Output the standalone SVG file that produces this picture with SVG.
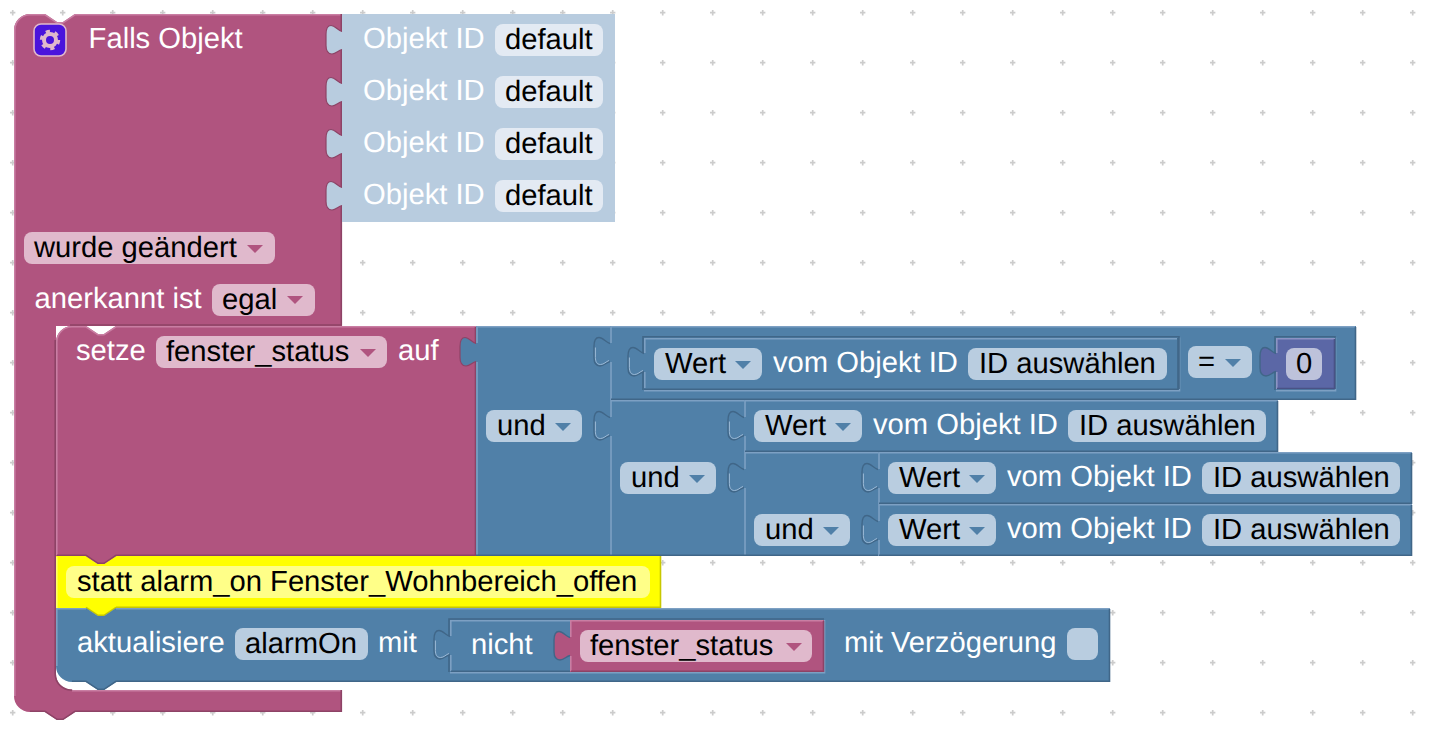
<svg xmlns="http://www.w3.org/2000/svg" width="1450" height="754" viewBox="0 0 1450 754">
<style>
text{font-family:"Liberation Sans",Arial,sans-serif;font-size:29.2px;text-rendering:geometricPrecision}
.w{fill:#fff}.k{fill:#000}
.e{fill:none;stroke-width:1.6}
.mf{fill:#b0547f}.ml{stroke:#c97ea3}.md{stroke:#8d4366}.mt{fill:#e0b9cc}
.bf{fill:#5080a8}.bl{stroke:#7da0c3}.bd{stroke:#406688}.bt{fill:#b9cde0}
.sf{fill:#b8ccdf}.st{fill:#e3eaf3}
.yf{fill:#ff0}.yl{stroke:#ff6}.yd{stroke:#c8c800}.yt{fill:#ff8}
.pf{fill:#5b67a6}.pl{stroke:#8c94c4}.pd{stroke:#495285}.pt{fill:#bdc2db}
.am{fill:#b0547f}.ab{fill:#5080a8}
.tm{stroke:#8d4366;stroke-width:1.2}
.tb{stroke:#406688;stroke-width:1.4}
.hl{fill:none;stroke:#9dbad6;stroke-width:1}
</style>
<defs>
<pattern id="grid" patternUnits="userSpaceOnUse" width="50" height="50"><path d="M10,12.7h5.4M12.7,10v5.4" stroke="#ccc" stroke-width="1.7" fill="none"/></pattern>
<path id="tab" d="M0,6C-4,5 -7,0 -11,0C-15,0 -16,5 -16,9V20C-16,25 -14,28.5 -10,28.5C-6,28.5 -4,25 0,24"/>
<path id="tabh" d="M-14.6,10V20C-14.6,24 -13,27 -9.5,27C-6,27 -4,24 -1,23"/>
<polygon id="arr" points="0,0 16,0 8,8"/>
</defs>
<rect id="background" width="1450" height="754" fill="#fff"/>
<rect id="workspace-grid" width="1450" height="754" fill="url(#grid)"/>

<g id="hat-falls-objekt">
<path class="mf" d="M14,30a16,16 0 0 1 16,-16h15l12,8h6l12,-8H342V326H56V674a16,16 0 0 0 16,16H342V712H75l-12,8h-6l-12,-8H30a16,16 0 0 1 -16,-16z"/>
<path class="e ml" d="M14.8,696V30a15.2,15.2 0 0 1 15.2,-15.2h15l12,8h6l12,-8H342M72,690.8H341"/>
<path class="e md" d="M341.3,14V325H70M55.2,340V674a16,16 0 0 0 17,16M341.3,690V711.3H75l-12,8h-6l-12,-8H30"/>
<rect x="34" y="24" width="32" height="32" rx="7" fill="#4a14dc" stroke="#e0b9cc" stroke-width="1.6"/>
<circle cx="50" cy="40" r="6" fill="none" stroke="#e0b9cc" stroke-width="4"/>
<circle cx="50" cy="40" r="8.7" fill="none" stroke="#e0b9cc" stroke-width="3" stroke-dasharray="4.2 4.91"/>
<text class="w" x="88.6" y="48">Falls Objekt</text>
<rect class="mt" x="24" y="232" width="251" height="32" rx="8"/>
<text class="k" x="34" y="257">wurde geändert</text>
<use href="#arr" class="am" x="247" y="245"/>
<text class="w" x="34.6" y="308">anerkannt ist</text>
<rect class="mt" x="212" y="284" width="103" height="32" rx="8"/>
<text class="k" x="222" y="309">egal</text>
<use href="#arr" class="am" x="287" y="296"/>
</g>

<g id="objekt-id-1">
<path class="sf" d="M342,14H615V66H342z"/><use href="#tab" class="sf tm" x="342" y="25.5"/>
<text class="w" x="363" y="48">Objekt ID</text>
<rect class="st" x="495" y="24" width="108" height="32" rx="8"/><text class="k" x="505" y="49">default</text>
</g>
<g id="objekt-id-2">
<path class="sf" d="M342,66H615V118H342z"/><use href="#tab" class="sf tm" x="342" y="77.5"/>
<text class="w" x="363" y="100">Objekt ID</text>
<rect class="st" x="495" y="76" width="108" height="32" rx="8"/><text class="k" x="505" y="101">default</text>
</g>
<g id="objekt-id-3">
<path class="sf" d="M342,118H615V170H342z"/><use href="#tab" class="sf tm" x="342" y="129.5"/>
<text class="w" x="363" y="152">Objekt ID</text>
<rect class="st" x="495" y="128" width="108" height="32" rx="8"/><text class="k" x="505" y="153">default</text>
</g>
<g id="objekt-id-4">
<path class="sf" d="M342,170H615V222H342z"/><use href="#tab" class="sf tm" x="342" y="181.5"/>
<text class="w" x="363" y="204">Objekt ID</text>
<rect class="st" x="495" y="180" width="108" height="32" rx="8"/><text class="k" x="505" y="205">default</text>
</g>

<g id="kommentar">
<path class="yf" d="M56,556H86l12,8h6l12,-8H661V608H116l-12,8h-6l-12,-8H56z"/>
<path class="e yl" d="M56.8,608V556.8"/>
<path class="e yd" d="M660.5,556V607.3H116M86,607.3l12,8h6l12,-8"/>
<rect class="yt" x="66" y="566" width="584" height="32" rx="8"/>
<text class="k" x="77" y="591">statt alarm_on Fenster_Wohnbereich_offen</text>
</g>

<g id="setze-fenster-status">
<path class="mf" d="M56,342a16,16 0 0 1 16,-16h14l12,8h6l12,-8H476V556H116l-12,8h-6l-12,-8H56z"/>
<path class="e ml" d="M56.8,555V342a15.2,15.2 0 0 1 15.2,-15.2h14l12,8h6l12,-8H476"/>
<path class="e md" d="M475.5,327V555.3H116l-12,8h-6l-12,-8H57"/>
<text class="w" x="76" y="360">setze</text>
<rect class="mt" x="156" y="336" width="231" height="32" rx="8"/>
<text class="k" x="166" y="361">fenster_status</text>
<use href="#arr" class="am" x="360" y="349"/>
<text class="w" x="398" y="360">auf</text>
</g>

<g id="und-1">
<path class="bf" d="M476,326H610V556H476z"/>
<use href="#tab" class="bf tm" x="476" y="337.5"/>
<path class="e bl" d="M477,556V362M477,343V326.8H610"/>
<path class="e bd" d="M476,555.3H610"/>
<use href="#tab" class="bf tb" x="610" y="337.5"/><use href="#tabh" class="hl" x="610" y="337.5"/>
<use href="#tab" class="bf tb" x="610" y="411.5"/><use href="#tabh" class="hl" x="610" y="411.5"/>
<rect class="bt" x="486" y="410" width="96" height="32" rx="8"/>
<text class="k" x="497" y="435">und</text>
<use href="#arr" class="ab" x="555" y="423"/>
</g>

<g id="vergleich">
<path class="bf" d="M610,326H1356V400H610z"/>
<path class="e bl" d="M611,400V362M611,343V326.8H1355"/>
<path class="e bd" d="M1355.5,327V399.2H611"/>
<path class="e bl" d="M1179.5,337.5V390.7H644"/>
<path class="e bl" d="M1335.5,337.5V390.7H1276"/>
<path class="e bd" d="M643,390V336.7H1179V389M1275,390V336.7H1335V389"/>
<path class="e bd" d="M644,389.2H1178V338"/>
<rect class="bt" x="1188" y="346" width="64" height="32" rx="8"/>
<text class="k" x="1198" y="371">=</text>
<use href="#arr" class="ab" x="1225" y="359"/>
</g>

<g id="wert-1">
<use href="#tab" class="bf tb" x="644" y="347.5"/><use href="#tabh" class="hl" x="644" y="347.5"/>
<path class="e bl" d="M644.8,388V372M644.8,353V338.8H1177"/>
<rect class="bt" x="654" y="348" width="108" height="32" rx="8"/>
<text class="k" x="665" y="373">Wert</text>
<use href="#arr" class="ab" x="735" y="361"/>
<text class="w" x="773" y="372">vom Objekt ID</text>
<rect class="bt" x="968" y="348" width="199" height="32" rx="8"/>
<text class="k" x="979" y="373">ID auswählen</text>
</g>

<g id="zahl-0">
<path class="pf" d="M1276,338H1335V389H1276z"/>
<use href="#tab" class="pf tb" x="1276" y="347.5"/>
<path class="e pl" d="M1276.8,389V372M1276.8,353V338.8H1335"/>
<path class="e pd" d="M1334.5,339V388.5H1277"/>
<rect class="pt" x="1286" y="348" width="36" height="32" rx="8"/>
<text class="k" x="1296" y="373">0</text>
</g>

<g id="und-2">
<path class="bf" d="M610,400H744V556H610z"/>
<path class="e bl" d="M611,556V436M611,417V400.8H744"/>
<path class="e bd" d="M610,555.3H744"/>
<use href="#tab" class="bf tb" x="744" y="411.5"/><use href="#tabh" class="hl" x="744" y="411.5"/>
<use href="#tab" class="bf tb" x="744" y="463.5"/><use href="#tabh" class="hl" x="744" y="463.5"/>
<rect class="bt" x="620" y="462" width="96" height="32" rx="8"/>
<text class="k" x="631" y="487">und</text>
<use href="#arr" class="ab" x="689" y="475"/>
</g>

<g id="wert-2">
<path class="bf" d="M744,400H1278V452H744z"/>
<path class="e bl" d="M745,452V436M745,417V400.8H1278"/>
<path class="e bd" d="M1277.5,401V451.2H745"/>
<rect class="bt" x="754" y="410" width="108" height="32" rx="8"/>
<text class="k" x="765" y="435">Wert</text>
<use href="#arr" class="ab" x="835" y="423"/>
<text class="w" x="873" y="434">vom Objekt ID</text>
<rect class="bt" x="1068" y="410" width="198" height="32" rx="8"/>
<text class="k" x="1079" y="435">ID auswählen</text>
</g>

<g id="und-3">
<path class="bf" d="M744,452H878V556H744z"/>
<path class="e bl" d="M745,556V488M745,469V452.8H878"/>
<path class="e bd" d="M744,555.3H878"/>
<use href="#tab" class="bf tb" x="878" y="463.5"/><use href="#tabh" class="hl" x="878" y="463.5"/>
<use href="#tab" class="bf tb" x="878" y="515.5"/><use href="#tabh" class="hl" x="878" y="515.5"/>
<rect class="bt" x="754" y="514" width="96" height="32" rx="8"/>
<text class="k" x="765" y="539">und</text>
<use href="#arr" class="ab" x="823" y="527"/>
</g>

<g id="wert-3">
<path class="bf" d="M878,452H1412V504H878z"/>
<path class="e bl" d="M879,504V488M879,469V452.8H1412"/>
<path class="e bd" d="M1411.5,453V503.2H879"/>
<rect class="bt" x="888" y="462" width="108" height="32" rx="8"/>
<text class="k" x="899" y="487">Wert</text>
<use href="#arr" class="ab" x="969" y="475"/>
<text class="w" x="1007" y="486">vom Objekt ID</text>
<rect class="bt" x="1202" y="462" width="198" height="32" rx="8"/>
<text class="k" x="1213" y="487">ID auswählen</text>
</g>

<g id="wert-4">
<path class="bf" d="M878,504H1412V556H878z"/>
<path class="e bl" d="M879,556V540M879,521V504.8H1412"/>
<path class="e bd" d="M1411.5,505V555.3H879"/>
<rect class="bt" x="888" y="514" width="108" height="32" rx="8"/>
<text class="k" x="899" y="539">Wert</text>
<use href="#arr" class="ab" x="969" y="527"/>
<text class="w" x="1007" y="538">vom Objekt ID</text>
<rect class="bt" x="1202" y="514" width="198" height="32" rx="8"/>
<text class="k" x="1213" y="539">ID auswählen</text>
</g>

<g id="aktualisiere">
<path class="bf" d="M56,608H86l12,8h6l12,-8H1110V682H116l-12,8h-6l-12,-8H72a16,16 0 0 1 -16,-16z"/>
<path class="e bl" d="M56.8,666V608.8H86M116,608.8H1110"/>
<path class="e bd" d="M1109.5,609V681.3H116l-12,8h-6l-12,-8H72"/>
<text class="w" x="77" y="652">aktualisiere</text>
<rect class="bt" x="235" y="628" width="133" height="32" rx="8"/>
<text class="k" x="245" y="653">alarmOn</text>
<text class="w" x="378" y="652">mit</text>
<path class="e bl" d="M824.5,620V672.7H450"/>
<path class="e bd" d="M449,672V619H824"/>
<text class="w" x="844" y="652">mit Verzögerung</text>
<rect class="bt" x="1067" y="628" width="31" height="32" rx="8"/>
</g>

<g id="nicht">
<use href="#tab" class="bf tb" x="450" y="630.5"/><use href="#tabh" class="hl" x="450" y="630.5"/>
<path class="e bl" d="M450.8,671V655M450.8,636V620.8H570"/>
<path class="e bd" d="M451,671.2H570"/>
<text class="w" x="471" y="654">nicht</text>
</g>

<g id="variable-fenster-status">
<path class="mf" d="M570,620H824V672H570z"/>
<use href="#tab" class="mf tb" x="570" y="631.5"/>
<path class="e ml" d="M570.8,671V656M570.8,637V620.8H823"/>
<path class="e md" d="M823.5,621V671.2H571"/>
<rect class="mt" x="580" y="630" width="232" height="32" rx="8"/>
<text class="k" x="590" y="655">fenster_status</text>
<use href="#arr" class="am" x="786" y="643"/>
</g>
</svg>
